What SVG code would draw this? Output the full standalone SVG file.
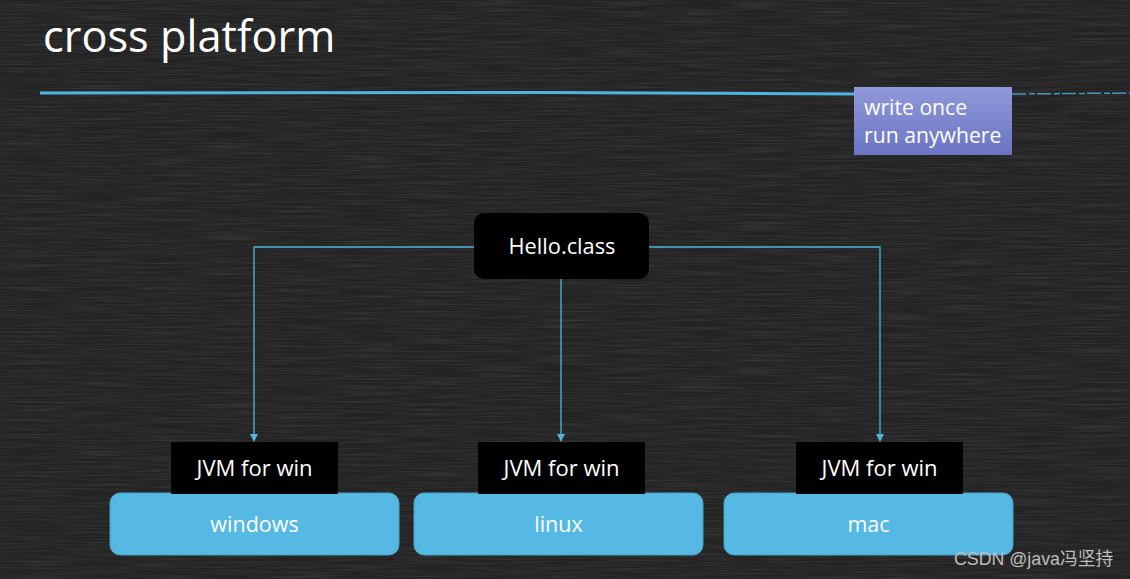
<svg xmlns="http://www.w3.org/2000/svg" width="1130" height="579" viewBox="0 0 1130 579">
<defs>
<linearGradient id="purple" x1="0" y1="0" x2="0" y2="1">
<stop offset="0" stop-color="#9199da"/>
<stop offset="1" stop-color="#6b74c3"/>
</linearGradient>
<filter id="chalk" x="0" y="0" width="100%" height="100%">
<feTurbulence type="fractalNoise" baseFrequency="0.015 0.7" numOctaves="3" seed="4" result="n"/>
<feColorMatrix in="n" type="matrix" values="0 0 0 0 1  0 0 0 0 1  0 0 0 0 1  0 0 0 0.55 -0.2"/>
</filter>
<style>
.t{font-family:"Open Sans","Noto Sans","DejaVu Sans",sans-serif;fill:#ffffff}
.black{fill:#000000}
.plat{fill:#55b9e3;stroke:#4a9fc6;stroke-width:1}
.conn{fill:none;stroke:#4fb4e2;stroke-width:1.3}
.arrow{fill:#4fb4e2}
</style>
</defs>
<rect width="1130" height="579" fill="#232323"/>
<rect width="1130" height="579" filter="url(#chalk)" opacity="0.3"/>
<text class="t" x="43" y="52" font-size="43.3">cross platform</text>
<path d="M40,93 L540,92.5 L854,94" stroke="#4fb4e2" stroke-width="3" fill="none"/>
<path d="M1012,94 L1130,93" stroke="#4fb4e2" stroke-width="1.5" stroke-dasharray="14 3 6 2" fill="none" opacity="0.8"/>
<g id="slogan">
<rect x="854" y="87" width="158" height="68" fill="url(#purple)"/>
<text class="t" x="864" y="115" font-size="21.2">write once</text>
<text class="t" x="864" y="143" font-size="21.2">run anywhere</text>
</g>
<g id="connectors">
<path class="conn" d="M474,247 L254,247 L254,436"/>
<path class="conn" d="M649,247 L880,247 L880,436"/>
<path class="conn" d="M561,279 L561,436"/>
<path class="arrow" d="M250,434 L258,434 L254,442 Z"/>
<path class="arrow" d="M557,434 L565,434 L561,442 Z"/>
<path class="arrow" d="M876,434 L884,434 L880,442 Z"/>
</g>
<g id="hello">
<rect class="black" x="474" y="213" width="175" height="66" rx="10"/>
<text class="t" x="562" y="254" font-size="21.8" text-anchor="middle">Hello.class</text>
</g>
<g id="windows">
<rect class="plat" x="110" y="493" width="289" height="62" rx="10"/>
<text class="t" x="254.5" y="532" font-size="21.5" text-anchor="middle">windows</text>
</g>
<g id="linux">
<rect class="plat" x="414" y="493" width="289" height="62" rx="10"/>
<text class="t" x="558.5" y="532" font-size="21.5" text-anchor="middle">linux</text>
</g>
<g id="mac">
<rect class="plat" x="724" y="493" width="289" height="62" rx="10"/>
<text class="t" x="868.5" y="532" font-size="21.5" text-anchor="middle">mac</text>
</g>
<g id="jvm-windows">
<rect class="black" x="171" y="442" width="167" height="52"/>
<text class="t" x="254.5" y="476" font-size="22" text-anchor="middle">JVM for win</text>
</g>
<g id="jvm-linux">
<rect class="black" x="478" y="442" width="167" height="52"/>
<text class="t" x="561.5" y="476" font-size="22" text-anchor="middle">JVM for win</text>
</g>
<g id="jvm-mac">
<rect class="black" x="796" y="442" width="167" height="52"/>
<text class="t" x="879.5" y="476" font-size="22" text-anchor="middle">JVM for win</text>
</g>
<text x="954" y="565" font-size="17.8" fill="#bdbdbd" style="font-family:'Liberation Sans','Noto Sans CJK SC',sans-serif">CSDN @java冯坚持</text>
</svg>
